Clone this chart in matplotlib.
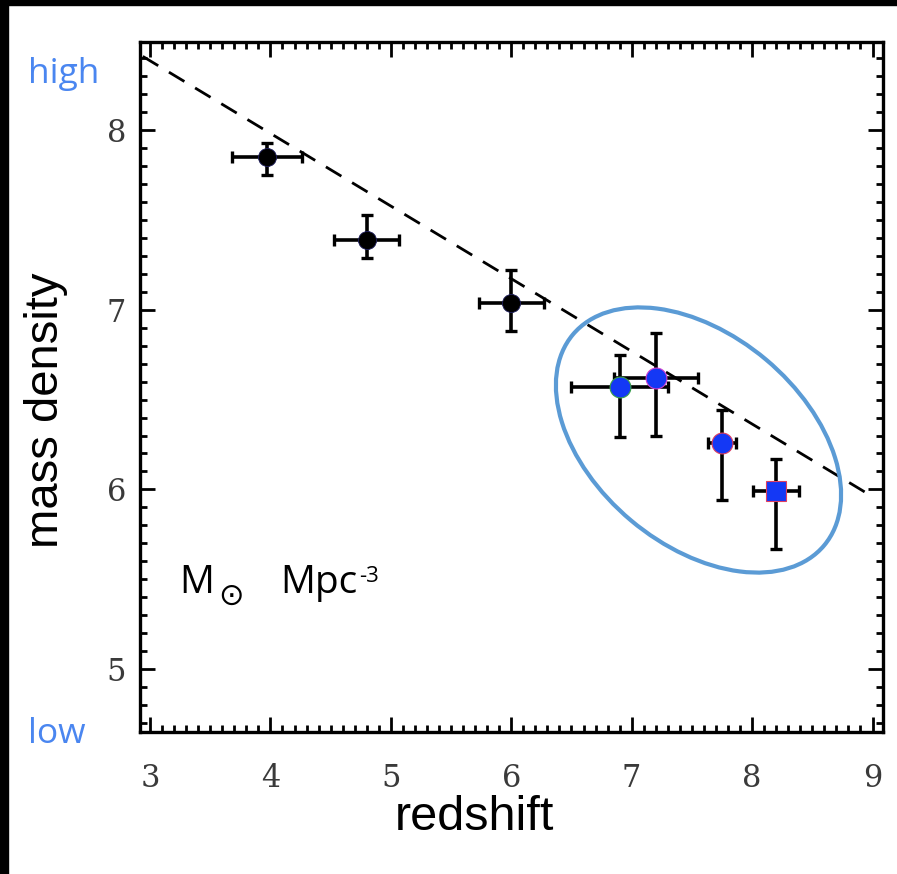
import matplotlib
matplotlib.use("Agg")
import matplotlib.pyplot as plt
from matplotlib.ticker import MultipleLocator
from matplotlib.patches import Ellipse, Rectangle
from matplotlib.transforms import IdentityTransform

# ---- data ----
z_black = [3.97, 4.80, 6.00]
rho_black = [7.85, 7.39, 7.04]
zerr_black = [0.29, 0.27, 0.27]
rho_lo_black = [0.10, 0.10, 0.16]
rho_hi_black = [0.08, 0.14, 0.18]

z_blue = [6.90, 7.20, 7.75]
rho_blue = [6.57, 6.62, 6.26]
zerr_lo_blue = [0.40, 0.35, 0.12]
zerr_hi_blue = [0.40, 0.35, 0.12]
rho_lo_blue = [0.28, 0.32, 0.32]
rho_hi_blue = [0.18, 0.25, 0.18]
edge_blue = ["#3aa04a", "#d040d0", "#e04060"]

z_sq = [8.20]
rho_sq = [5.99]
zerr_sq = [0.19]
rho_lo_sq = [0.32]
rho_hi_sq = [0.18]

fit_z = [2.94, 8.95]
fit_rho = [8.41, 5.98]

xticks = [3, 4, 5, 6, 7, 8, 9]
yticks = [5, 6, 7, 8]

W, H = 897, 874
fig = plt.figure(figsize=(W / 100, H / 100), dpi=100)
fig.patch.set_facecolor("white")

ax = fig.add_axes([140 / W, 1 - 732 / H, 743 / W, 690 / H])
ax.set_xlim(2.917, 9.087)
ax.set_ylim(4.65, 8.49)

# dashed fit line
ln, = ax.plot(fit_z, fit_rho, color="black", lw=2.0, zorder=2)
ln.set_dashes([6.5, 4.5])

ekw = dict(fmt="none", ecolor="black", elinewidth=2.6, capsize=4.0, capthick=2.4, zorder=3)
ax.errorbar(z_black, rho_black, xerr=zerr_black, yerr=[rho_lo_black, rho_hi_black], **ekw)
ax.errorbar(z_blue, rho_blue, xerr=[zerr_lo_blue, zerr_hi_blue], yerr=[rho_lo_blue, rho_hi_blue], **ekw)
ax.errorbar(z_sq, rho_sq, xerr=zerr_sq, yerr=[rho_lo_sq, rho_hi_sq], **ekw)

ax.plot(z_black, rho_black, "o", color="black", ms=13, mec="#202060", mew=0.6, zorder=4)
for x, y, ec in zip(z_blue, rho_blue, edge_blue):
    ax.plot([x], [y], "o", color="#1438f5", ms=15, mec=ec, mew=0.8, zorder=4)
ax.plot(z_sq, rho_sq, "s", color="#1438f5", ms=15, mec="#e04060", mew=0.8, zorder=4)

# ticks
ax.set_xticks(xticks)
ax.set_yticks(yticks)
ax.xaxis.set_minor_locator(MultipleLocator(0.1))
ax.yaxis.set_minor_locator(MultipleLocator(0.1))
ax.tick_params(which="both", direction="in", top=True, right=True, width=2.0, color="black")
ax.tick_params(which="major", length=11)
ax.tick_params(which="minor", length=5)
ax.tick_params(axis="x", which="major", pad=22)
ax.tick_params(axis="y", which="major", pad=10)
for lab in ax.get_xticklabels() + ax.get_yticklabels():
    lab.set_fontfamily("DejaVu Serif")
    lab.set_fontsize(22)
    lab.set_color("#3a3a3a")
for s in ax.spines.values():
    s.set_linewidth(2.4)

def px(x, y):
    return x / W, 1 - y / H

fig.text(*px(46, 410), "mass density", rotation=90, ha="center", va="center",
         family="Liberation Sans", fontsize=34, color="black")
fig.text(*px(474, 818), "redshift", ha="center", va="center",
         family="Liberation Sans", fontsize=35, color="black")

blue_txt = "#4a86f0"
fig.text(*px(28, 83), "high", ha="left", va="baseline", family="Open Sans",
         fontsize=25.5, color=blue_txt)
fig.text(*px(28, 743), "low", ha="left", va="baseline", family="Open Sans",
         fontsize=25.5, color=blue_txt)

fig.text(*px(179, 593), "M", ha="left", va="baseline", family="Open Sans", fontsize=28, color="black")
fig.text(*px(231, 596), "\u2299", ha="center", va="center", family="DejaVu Sans", fontsize=22, color="black")
fig.text(*px(280, 593), "Mpc", ha="left", va="baseline", family="Open Sans", fontsize=28, color="black")
fig.text(*px(359, 582), "-3", ha="left", va="baseline", family="Open Sans", fontsize=16, color="black")

# ellipse highlighting high-z points
ell = Ellipse((698.5, H - 440), width=328, height=210, angle=-40, fill=False,
              edgecolor="#5b9bd5", lw=3.0, transform=IdentityTransform())
fig.patches.append(ell)
ell.set_figure(fig)

# black frame bits
fig.patches.append(Rectangle((0, 0), 8 / W, 1, transform=fig.transFigure, color="black", figure=fig))
fig.patches.append(Rectangle((0, 1 - 5 / H), 1, 5 / H, transform=fig.transFigure, color="black", figure=fig))

fig.savefig("out.png", dpi=100)
